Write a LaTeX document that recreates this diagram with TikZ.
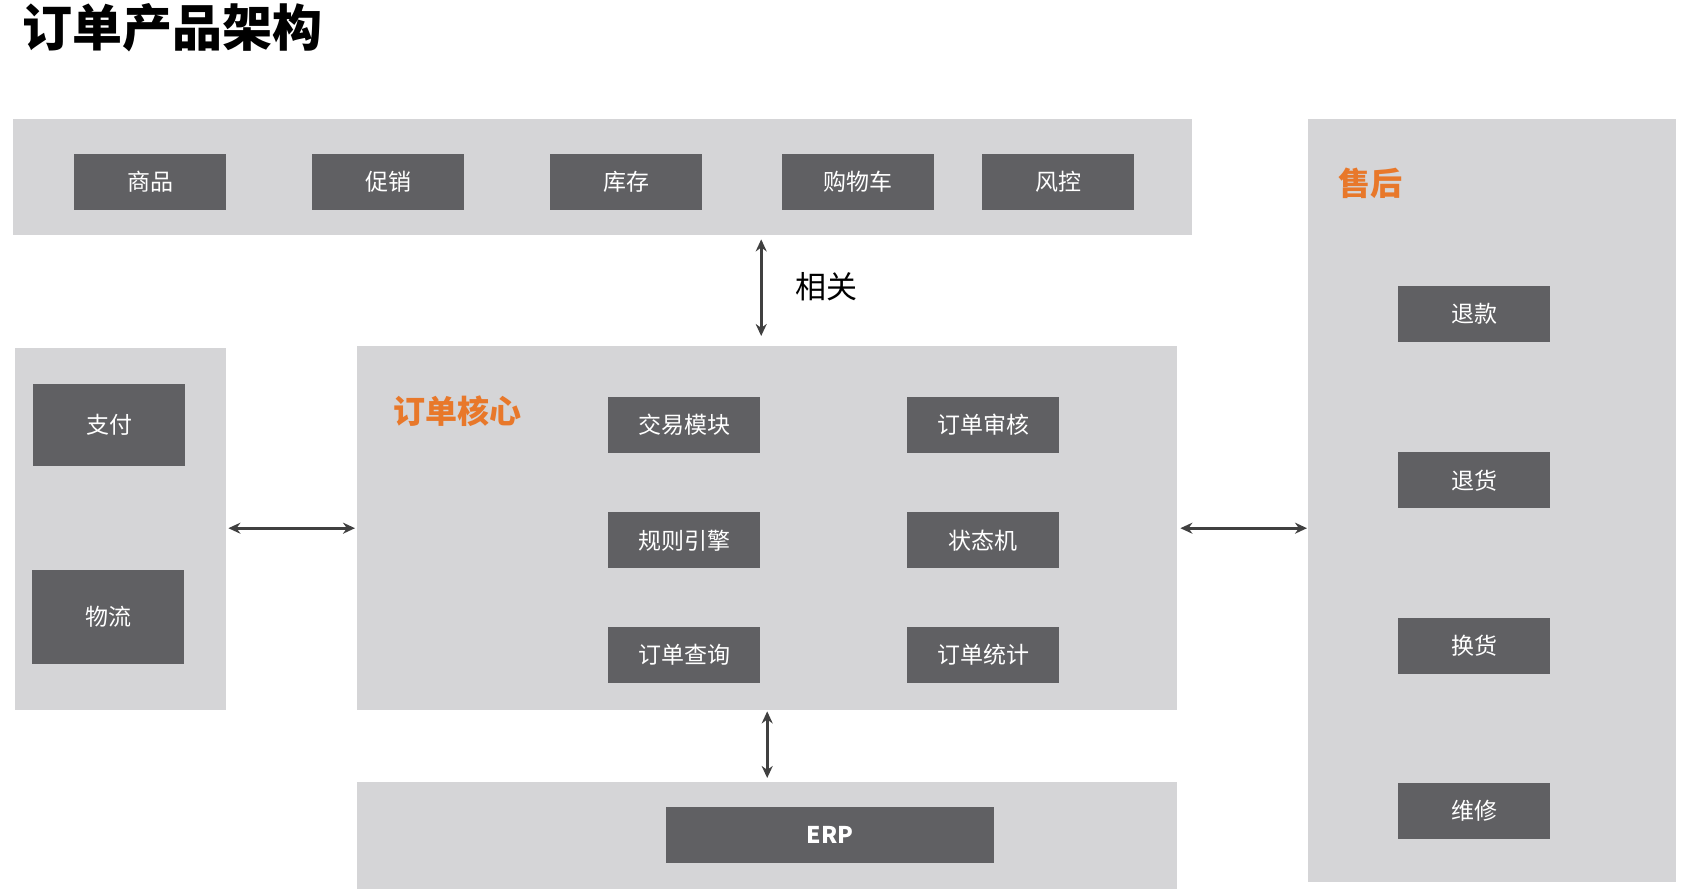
\documentclass[tikz,border=0pt]{standalone}
\usepackage{fontspec}
\usepackage{xcolor}
\usepackage{tikz}
\usetikzlibrary{positioning,arrows.meta}
\newfontfamily\cjk{Noto Sans CJK SC}

\definecolor{panelgray}{HTML}{D5D5D7}
\definecolor{boxgray}{HTML}{606063}
\definecolor{accent}{HTML}{E8782A}
\definecolor{arrowgray}{HTML}{404040}

\begin{document}
\begin{tikzpicture}[
  x=1pt, y=-1pt,
  panel/.style={fill=panelgray, draw=none, anchor=north west, inner sep=0pt},
  blk/.style={fill=boxgray, draw=none, text=white, minimum width=152pt,
              minimum height=56pt, font=\cjk\fontsize{23}{26}\selectfont, inner sep=0pt},
  tag/.style={text=accent, font=\cjk\bfseries\fontsize{32}{36}\selectfont, inner sep=0pt},
  arr/.style={{Stealth[length=12pt,width=11pt]}-{Stealth[length=12pt,width=11pt]}, line width=2.6pt, draw=arrowgray},
]
  \useasboundingbox (0,0) rectangle (1687,890);

  % title
  \node[font=\cjk\bfseries\fontsize{50}{56}\selectfont, anchor=west, inner sep=0pt] (title) at (22,28) {订单产品架构};

  % panels
  \node[panel, minimum width=1179pt, minimum height=116pt] (top) at (13,119) {};
  \node[panel, minimum width=211pt, minimum height=362pt] (left) at (15,348) {};
  \node[panel, minimum width=820pt, minimum height=364pt] (core) at (357,346) {};
  \node[panel, minimum width=820pt, minimum height=107pt] (bottom) at (357,782) {};
  \node[panel, minimum width=368pt, minimum height=763pt] (after) at (1308,119) {};

  % top band
  \node[blk] (goods) at (150,182) {商品};
  \node[blk] (promo) at (388,182) {促销};
  \node[blk] (stock) at (626,182) {库存};
  \node[blk] (cart) at (858,182) {购物车};
  \node[blk] (risk) at (1058,182) {风控};

  % left panel
  \node[blk, minimum height=82pt] (pay) at (109,425) {支付};
  \node[blk, minimum height=94pt] (ship) at (108,617) {物流};

  % order core
  \node[tag, anchor=west] (coretag) at (393,411) {订单核心};
  \node[blk] (trade) at (684,425) {交易模块};
  \node[blk, below=59pt of trade] (rule) {规则引擎};
  \node[blk, below=58pt of rule] (query) {订单查询};
  \node[blk] (audit) at (983,425) {订单审核};
  \node[blk, below=59pt of audit] (state) {状态机};
  \node[blk, below=58pt of state] (stat) {订单统计};

  % bottom band
  \node[blk, minimum width=328pt, font=\cjk\bfseries\fontsize{23}{26}\selectfont] (erp) at (830,835) {ERP};

  % after-sale
  \node[tag, anchor=west] (aftertag) at (1338,183) {售后};
  \node[blk] (refund) at (1474,314) {退款};
  \node[blk, below=110pt of refund] (return) {退货};
  \node[blk, below=109pt of return] (swap) {换货};
  \node[blk, below=109pt of swap] (repair) {维修};

  % connectors
  \draw[arr, shorten <=4pt, shorten >=10pt] ([xshift=-6pt]core.north |- top.south) -- ([xshift=-6pt]core.north);
  \node[font=\cjk\fontsize{31}{34}\selectfont, anchor=west, inner sep=0pt] (rel) at (795,287) {相关};
  \draw[arr, shorten <=2pt, shorten >=2pt] (left.east |- core.west) -- (core.west);
  \draw[arr, shorten <=3pt, shorten >=1pt] (core.east) -- (core.east -| after.west);
  \draw[arr, shorten <=1pt, shorten >=4pt] (core.south) -- (bottom.north);
\end{tikzpicture}
\end{document}
